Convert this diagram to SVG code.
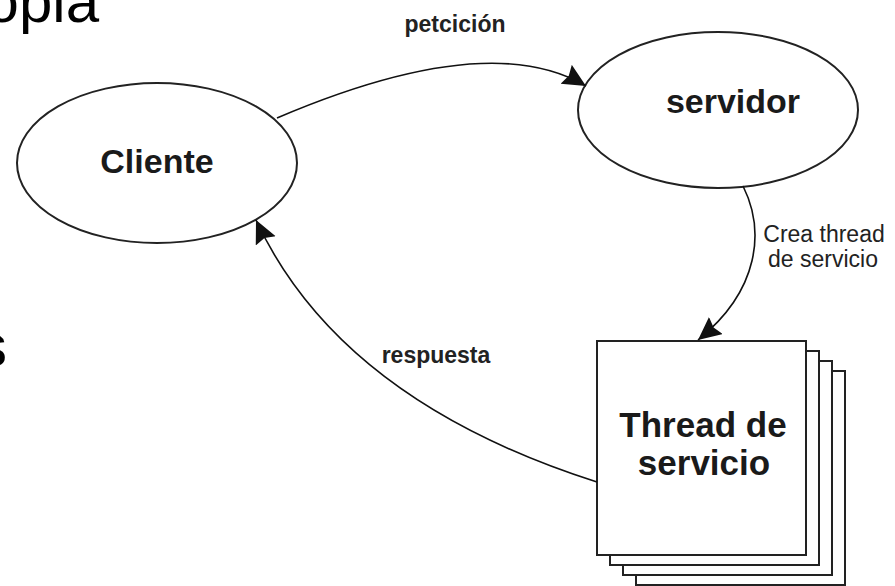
<svg xmlns="http://www.w3.org/2000/svg" width="895" height="586" viewBox="0 0 895 586">
  <defs>
    <marker id="arrow" markerUnits="userSpaceOnUse" markerWidth="26" markerHeight="24" refX="23" refY="11" orient="auto">
      <path d="M0,0 L23,11 L0,22 L3,11 Z" fill="#111"/>
    </marker>
    <style>
      .slide { font-family: "Liberation Sans", Arial, sans-serif; font-size: 60px; fill: #000; }
      .node { fill: #fff; stroke: #222; stroke-width: 2; }
      .lbl { font-family: "Liberation Sans", Arial, sans-serif; font-weight: bold; fill: #1a1a1a; text-anchor: middle; }
      .big { font-size: 34px; }
      .edge { fill: none; stroke: #111; stroke-width: 1.6; marker-end: url(#arrow); }
      .elbl { font-family: "Liberation Sans", Arial, sans-serif; font-size: 23px; fill: #222; text-anchor: middle; }
      .bold { font-weight: bold; }
    </style>
  </defs>

  <rect width="895" height="586" fill="#fff"/>

  <!-- slide text fragments -->
  <text class="slide" x="99" y="22" text-anchor="end">opia</text>
  <text class="slide" x="7" y="366" text-anchor="end">s</text>

  <g id="cliente">
    <ellipse class="node" cx="157" cy="163" rx="140" ry="80"/>
    <text class="lbl big" x="157" y="173">Cliente</text>
  </g>

  <g id="servidor">
    <ellipse class="node" cx="718" cy="110" rx="140" ry="78"/>
    <text class="lbl big" x="733" y="113">servidor</text>
  </g>

  <g id="thread">
    <rect class="node" x="636" y="371" width="209" height="214"/>
    <rect class="node" x="623" y="361" width="209" height="214"/>
    <rect class="node" x="610" y="351" width="209" height="214"/>
    <rect class="node" x="597" y="341" width="209" height="214"/>
    <text class="lbl" font-size="35" x="703" y="437">Thread de</text>
    <text class="lbl" font-size="35" x="704" y="475">servicio</text>
  </g>

  <g id="connectors">
    <path class="edge" d="M277,118 Q488,28 586,86"/>
    <text class="elbl bold" x="455" y="32">petcición</text>

    <path class="edge" d="M743,186 C765,230 760,290 698,340"/>
    <text class="elbl" x="824" y="242">Crea thread</text>
    <text class="elbl" x="823" y="267">de servicio</text>

    <path class="edge" d="M597,482 Q340,400 256,220"/>
    <text class="elbl bold" x="436" y="363">respuesta</text>
  </g>
</svg>
